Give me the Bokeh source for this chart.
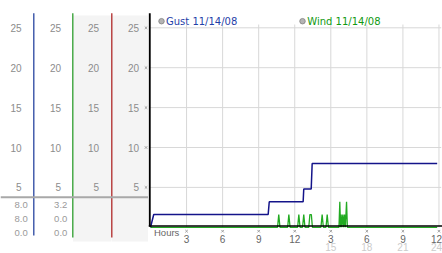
from bokeh.plotting import figure
from bokeh.layouts import row
from bokeh.models import Range1d, ColumnDataSource
from bokeh.core.properties import value
from bokeh.embed import file_html
from bokeh.resources import INLINE

# ---------------- data ----------------
scale_ticks = [25, 20, 15, 10, 5]
hour_ticks = [3, 6, 9, 12, 15, 18, 21, 24]
hour_labels = ["3", "6", "9", "12", "3", "6", "9", "12"]
hour_ticks_2 = [15, 18, 21, 24]
hour_labels_2 = ["15", "18", "21", "24"]
axis_title = "Hours"
gust_label = "Gust 11/14/08"
wind_label = "Wind 11/14/08"
gust_stats = ["8.0", "8.0", "0.0"]
wind_stats = ["3.2", "0.0", "0.0"]

gust_hours = [0.0, 0.27, 9.79, 9.88, 12.70, 12.75, 13.37, 13.45, 23.85]
gust_vals = [0.0, 1.6, 1.6, 3.2, 3.2, 4.8, 4.8, 8.0, 8.0]

wind_hours = [0.0,
              10.57, 10.67, 10.77,
              11.41, 11.51, 11.61,
              12.24, 12.34, 12.44,
              12.65, 12.75, 12.85,
              13.17, 13.26, 13.38, 13.47,
              14.18, 14.28, 14.38,
              14.60, 14.70, 14.80,
              15.68, 15.75, 15.81, 15.86, 15.92, 16.00, 16.07, 16.14, 16.21, 16.31, 16.38,
              23.85]
wind_vals = [0.0,
             0.0, 1.6, 0.0,
             0.0, 1.6, 0.0,
             0.0, 1.6, 0.0,
             0.0, 1.6, 0.0,
             0.0, 1.6, 1.6, 0.0,
             0.0, 1.6, 0.0,
             0.0, 1.6, 0.0,
             0.0, 3.2, 0.0, 1.6, 0.0, 1.6, 0.0, 1.6, 0.0, 3.2, 0.0,
             0.0]

# ---------------- layout helpers ----------------
W, H = 442, 253
LEFT_W = 148
ZERO_PX = 226.8
PX_PER_UNIT = 7.98
PX_PER_HOUR = 12.02
HOUR0_LOCAL = 2.0


def v(px):
    return (ZERO_PX - px) / PX_PER_UNIT


def hr(px_global):
    return (px_global - LEFT_W - HOUR0_LOCAL) / PX_PER_HOUR


yr = Range1d(v(H), v(0))
NUM_FONT = value("Liberation Sans")
LEG_FONT = value("DejaVu Sans")


def base_fig(width, xr):
    p = figure(width=width, height=H, x_range=xr, y_range=yr,
               output_backend="svg", toolbar_location=None,
               x_axis_location=None, y_axis_location=None,
               min_border=0, outline_line_color=None,
               background_fill_color="white", border_fill_color="white")
    p.grid.visible = False
    return p


# ---------------- left panel ----------------
left = base_fig(LEFT_W, Range1d(0, LEFT_W))

# grey column backgrounds
left.quad(left=[72.5, 111.5], right=[111, LEFT_W], top=v(15), bottom=v(241),
          fill_color="#f4f4f4", line_color=None)

# column separators
left.segment(x0=[33.3], y0=v(12.7), x1=[33.3], y1=v(235), line_color="#2846a0", line_width=1.3)
left.segment(x0=[72.3], y0=v(12.7), x1=[72.3], y1=v(237), line_color="#2e9e2e", line_width=1.3)
left.segment(x0=[111.3], y0=v(12.7), x1=[111.3], y1=v(237), line_color="#b02828", line_width=1.3)

# horizontal separator
left.segment(x0=[0], y0=v(196.7), x1=[LEFT_W], y1=v(196.7), line_color="#a8a8a8", line_width=2)

# scale numbers in four columns
col_right = [21, 60.5, 98.5, 138.5]
sx, sy, st = [], [], []
for cx in col_right:
    for t in scale_ticks:
        sx.append(cx)
        sy.append(t)
        st.append(str(t))
left.text(x=sx, y=sy, text=st, text_align="right", text_baseline="middle",
          text_font=NUM_FONT, text_font_size="10px", text_color="#8c8c8c")

# y tick marks
left.scatter(x=[145.5] * len(scale_ticks), y=scale_ticks, marker="x", size=3.5,
             line_color="#a0a0a0", line_width=1)

# stats
row_px = [204.3, 218.3, 232.3]
left.text(x=[27.2] * 3, y=[v(p) for p in row_px], text=gust_stats, text_align="right",
          text_baseline="middle", text_font=NUM_FONT, text_font_size="9.5px", text_color="#9a9a9a")
left.text(x=[66.8] * 3, y=[v(p) for p in row_px], text=wind_stats, text_align="right",
          text_baseline="middle", text_font=NUM_FONT, text_font_size="9.5px", text_color="#9a9a9a")

# ---------------- chart panel ----------------
RIGHT_W = W - LEFT_W
xr = Range1d(-HOUR0_LOCAL / PX_PER_HOUR, (RIGHT_W - HOUR0_LOCAL) / PX_PER_HOUR)
p = base_fig(RIGHT_W, xr)

# grid lines
p.segment(x0=hour_ticks, y0=[0] * len(hour_ticks), x1=hour_ticks, y1=[v(24)] * len(hour_ticks),
          line_color="#d8d8d8", line_width=1)
p.segment(x0=[hr(149)] * len(scale_ticks), y0=scale_ticks, x1=[hr(440.7)] * len(scale_ticks),
          y1=scale_ticks, line_color="#d8d8d8", line_width=1)

# series
p.line(wind_hours, wind_vals, line_color="#22aa22", line_width=1.3)
p.line(gust_hours, gust_vals, line_color="#14148a", line_width=1.5)

# axis lines
p.segment(x0=[hr(148)], y0=[v(225.5)], x1=[hr(442)], y1=[v(225.5)], line_color="black", line_width=1.6)
p.segment(x0=[hr(149.2)], y0=[v(12.7)], x1=[hr(149.2)], y1=[v(226)], line_color="black", line_width=2)

# x tick marks and labels
p.scatter(x=hour_ticks, y=[v(230.7)] * len(hour_ticks), marker="x", size=3.5,
          line_color="#a0a0a0", line_width=1)
src1 = ColumnDataSource(dict(x=hour_ticks, y=[v(238)] * len(hour_ticks), t=hour_labels,
                             xo=[0] * (len(hour_ticks) - 1) + [-2.5]))
p.text(x="x", y="y", text="t", x_offset="xo", source=src1, text_align="center",
       text_baseline="middle", text_font=NUM_FONT, text_font_size="10px", text_color="#666666")
src2 = ColumnDataSource(dict(x=hour_ticks_2, y=[v(246.7)] * len(hour_ticks_2), t=hour_labels_2,
                             xo=[0] * (len(hour_ticks_2) - 1) + [-2.5]))
p.text(x="x", y="y", text="t", x_offset="xo", source=src2, text_align="center",
       text_baseline="middle", text_font=NUM_FONT, text_font_size="10px", text_color="#cccccc")
p.text(x=[hr(153.5)], y=[v(231.7)], text=[axis_title], text_align="left", text_baseline="middle",
       text_font=NUM_FONT, text_font_size="9.5px", text_color="#666666")

# legend
p.scatter(x=[hr(161), hr(302)], y=[v(20.7)] * 2, marker="circle", size=5.5,
          fill_color="#b4b4b4", line_color="#808080", line_width=0.8)
p.text(x=[hr(165.5)], y=[v(20.7)], text=[gust_label], text_align="left", text_baseline="middle",
       text_font=LEG_FONT, text_font_size="10px", text_color="#1f3fa8")
p.text(x=[hr(306.8)], y=[v(20.7)], text=[wind_label], text_align="left", text_baseline="middle",
       text_font=LEG_FONT, text_font_size="10px", text_color="#119911")

layout = row(left, p)
open("out.html", "w").write(file_html(layout, INLINE))
